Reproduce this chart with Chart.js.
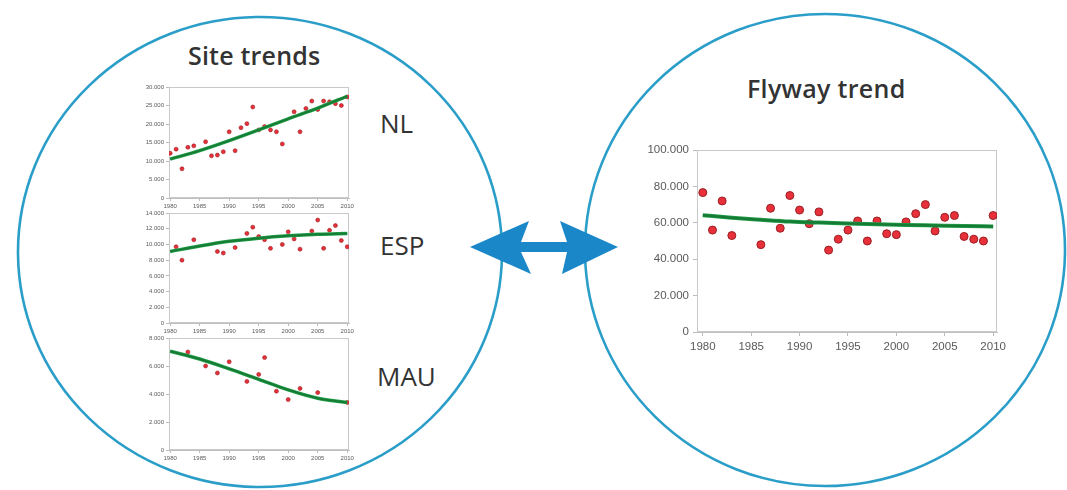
<!DOCTYPE html>
<html>
<head>
<meta charset="utf-8">
<script src="https://cdn.jsdelivr.net/npm/chart.js@4.4.1/dist/chart.umd.min.js"></script>
<style>
  html,body{margin:0;padding:0;background:#fff;}
  #wrap{position:relative;width:1067px;height:490px;overflow:hidden;background:#fff;}
  canvas{position:absolute;}
  svg{position:absolute;left:0;top:0;}
  .lbl{position:absolute;font-family:"Open Sans",sans-serif;color:#333;white-space:nowrap;line-height:1;}
</style>
</head>
<body>
<div id="wrap">
  <svg width="1067" height="490">
    <ellipse cx="260" cy="252" rx="242" ry="235" fill="none" stroke="#2a9ec8" stroke-width="2.6"/>
    <ellipse cx="825" cy="250" rx="240" ry="236" fill="none" stroke="#2a9ec8" stroke-width="2.6"/>
  </svg>
  <div class="lbl" style="left:188px;top:43px;font-size:25px;font-weight:600;letter-spacing:0.2px;">Site trends</div>
  <div class="lbl" style="left:747px;top:76px;font-size:25px;font-weight:600;letter-spacing:0.3px;">Flyway trend</div>
  <div class="lbl" style="left:380px;top:110px;font-size:26px;">NL</div>
  <div class="lbl" style="left:380px;top:232px;font-size:26px;">ESP</div>
  <div class="lbl" style="left:377px;top:363px;font-size:26px;">MAU</div>
  <canvas id="cNL" width="240" height="130" style="left:120px;top:80px;"></canvas>
  <canvas id="cESP" width="240" height="130" style="left:120px;top:206px;"></canvas>
  <canvas id="cMAU" width="240" height="128" style="left:120px;top:332px;"></canvas>
  <canvas id="cFly" width="390" height="220" style="left:630px;top:140px;"></canvas>
  <svg width="1067" height="490" style="pointer-events:none">
    <polygon fill="#1a87c9" points="470,247 529,221 521,242 567,242 560,221 618,247 562,274 567,252 521,252 531,274"/>
  </svg>
</div>
<script>
// ---------- data ----------
const xTickYears = [1980, 1985, 1990, 1995, 2000, 2005, 2010];

const nlYears  = [1980,1981,1982,1983,1984,1986,1987,1988,1989,1990,1991,1992,1993,1994,1995,1996,1997,1998,1999,2001,2002,2003,2004,2005,2006,2007,2008,2009,2010];
const nlCounts = [12100,13200,7900,13700,14100,15200,11400,11600,12500,17900,12800,19000,20100,24600,18400,19300,18400,17900,14600,23300,17900,24200,26200,23900,26200,26000,25500,25000,27300];
const nlTrendYears = [1980,1985,1990,1995,2000,2005,2010];
const nlTrend      = [10500,12800,15500,18400,21400,24300,27500];

const espYears  = [1981,1982,1984,1988,1989,1991,1993,1994,1995,1996,1997,1999,2000,2001,2002,2004,2005,2006,2007,2008,2009,2010];
const espCounts = [9700,8000,10600,9100,8900,9600,11400,12200,11000,10600,9500,10000,11600,10700,9400,11700,13100,9500,11800,12400,10500,9700];
const espTrendYears = [1980,1985,1990,1995,2000,2005,2010];
const espTrend      = [9100,9800,10400,10800,11100,11300,11400];

const mauYears  = [1983,1986,1988,1990,1993,1995,1996,1998,2000,2002,2005,2010];
const mauCounts = [7000,6000,5500,6300,4900,5400,6600,4200,3600,4400,4100,3400];
const mauTrendYears = [1980,1985,1990,1995,2000,2005,2010];
const mauTrend      = [7050,6500,5800,5050,4300,3700,3400];

const flyYears  = [1980,1981,1982,1983,1986,1987,1988,1989,1990,1991,1992,1993,1994,1995,1996,1997,1998,1999,2000,2001,2002,2003,2004,2005,2006,2007,2008,2009,2010];
const flyCounts = [76600,56000,72000,53000,48000,68000,57000,75000,67000,59500,66000,45000,51000,56000,61000,50000,61000,54000,53500,60500,65000,70000,55500,63000,64000,52500,51000,50000,64000];
const flyTrendYears = [1980,1983,1986,1989,1992,1995,1998,2001,2004,2007,2010];
const flyTrend      = [64200,62800,61700,60700,60100,59600,59200,58800,58500,58200,58000];

// ---------- helpers ----------
function fmt(v){ return String(Math.round(v)).replace(/\B(?=(\d{3})+(?!\d))/g, '.'); }
function pts(xs, ys){ return xs.map((x,i)=>({x:x, y:ys[i]})); }

const framePlugin = {
  id:'frame',
  beforeDatasetsDraw(chart, args, opts){
    const a = chart.chartArea, c = chart.ctx;
    c.save(); c.strokeStyle = opts.color || '#c8c8c8'; c.lineWidth = 1;
    c.strokeRect(a.left+0.5, a.top+0.5, a.right-a.left-1, a.bottom-a.top-1);
    c.restore();
  }
};

function makeChart(id, s){
  const ds = [
    { type:'line', data: pts(s.trendYears, s.trend), borderColor:'#22a04a', borderWidth:s.lw+1.5,
      pointRadius:0, tension:0.4, cubicInterpolationMode:'monotone', order:1 },
    { type:'line', data: pts(s.trendYears, s.trend), borderColor:'#167c35', borderWidth:s.lw,
      pointRadius:0, tension:0.4, cubicInterpolationMode:'monotone', order:0 },
    { type:'scatter', data: pts(s.years, s.counts), backgroundColor:'#e8303a', borderColor:'#9a1e22',
      borderWidth:s.pbw, pointRadius:s.pr, order:2 }
  ];
  return new Chart(document.getElementById(id), {
    data:{ datasets: ds },
    plugins:[framePlugin],
    options:{
      responsive:false, animation:false,
      layout:{ padding:{ top:s.padTop, right:s.padRight, left:0, bottom:0 } },
      plugins:{ legend:{display:false}, tooltip:{enabled:false}, frame:{color:'#c9c9c9'} },
      scales:{
        x:{ type:'linear', min:s.xmin, max:s.xmax,
            afterBuildTicks(sc){ sc.ticks = xTickYears.map(v=>({value:v})); },
            afterFit(sc){ sc.height = s.xh; sc.paddingLeft = 0; sc.paddingRight = 0; },
            grid:{ display:true, drawOnChartArea:false, drawTicks:true, tickLength:s.tl, color:'#bbb' },
            border:{ display:true, color:'#c0c0c0' },
            ticks:{ color:'#5a5a5a', font:{ size:s.fs, family:'"Liberation Sans", Arial, sans-serif' }, padding:s.tp, maxRotation:0, autoSkip:false,
                    callback:(v)=>String(v) } },
        y:{ type:'linear', min:0, max:s.ymax,
            afterFit(sc){ sc.width = s.yw; sc.paddingTop = 0; sc.paddingBottom = 0; },
            grid:{ display:true, drawOnChartArea:false, drawTicks:true, tickLength:s.tl, color:'#bbb' },
            border:{ display:true, color:'#c0c0c0' },
            ticks:{ stepSize:s.ystep, color:'#5a5a5a', font:{ size:s.fs, family:'"Liberation Sans", Arial, sans-serif' }, padding:s.tp,
                    callback:(v)=>fmt(v) } }
      }
    }
  });
}

const small = { xmin:1979.8, xmax:2010.3, yw:49, padRight:11, fs:6, tl:3, tp:2, lw:2, pr:2, pbw:0.6 };

makeChart('cNL',  Object.assign({}, small, { years:nlYears, counts:nlCounts, trendYears:nlTrendYears, trend:nlTrend,
  ymax:30000, ystep:5000, padTop:7, xh:12 }));
makeChart('cESP', Object.assign({}, small, { years:espYears, counts:espCounts, trendYears:espTrendYears, trend:espTrend,
  ymax:14000, ystep:2000, padTop:7, xh:13 }));
makeChart('cMAU', Object.assign({}, small, { years:mauYears, counts:mauCounts, trendYears:mauTrendYears, trend:mauTrend,
  ymax:8000, ystep:2000, padTop:6, xh:10 }));

makeChart('cFly', { years:flyYears, counts:flyCounts, trendYears:flyTrendYears, trend:flyTrend,
  xmin:1979.4, xmax:2010.4, ymax:100000, ystep:20000, yw:67, padTop:10, padRight:23, xh:28,
  fs:11.5, tl:4, tp:4, lw:2.5, pr:4, pbw:1 });
</script>
</body>
</html>
